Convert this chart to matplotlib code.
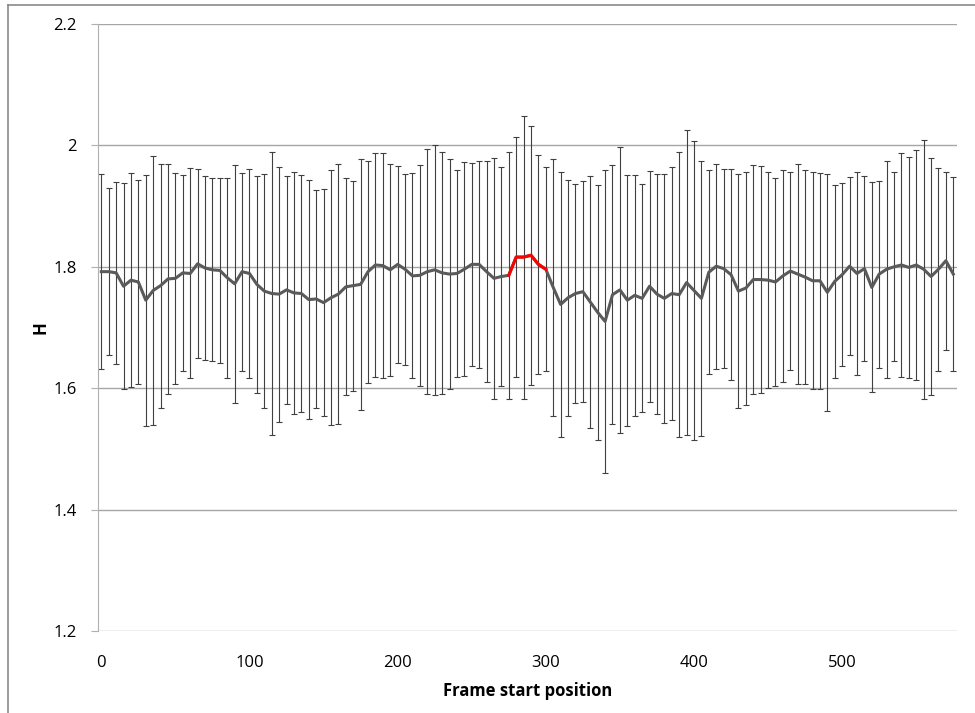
import numpy as np
import matplotlib
matplotlib.use("Agg")
import matplotlib.pyplot as plt
from matplotlib.lines import Line2D

plt.rcParams['font.family'] = ['Open Sans', 'DejaVu Sans']

# frame start positions (category axis, step 5)
frame = np.arange(0, 580, 5)

h_mean = [1.792, 1.792, 1.790, 1.768, 1.778, 1.775, 1.745, 1.761, 1.769, 1.780,
          1.781, 1.790, 1.789, 1.805, 1.798, 1.795, 1.794, 1.782, 1.772, 1.792,
          1.789, 1.771, 1.760, 1.756, 1.755, 1.762, 1.757, 1.756, 1.746, 1.747,
          1.741, 1.749, 1.755, 1.767, 1.769, 1.771, 1.792, 1.803, 1.802, 1.795,
          1.804, 1.796, 1.785, 1.786, 1.792, 1.795, 1.790, 1.788, 1.789, 1.796,
          1.804, 1.804, 1.792, 1.781, 1.784, 1.786, 1.816, 1.816, 1.819, 1.804,
          1.796, 1.766, 1.738, 1.749, 1.756, 1.759, 1.742, 1.725, 1.710, 1.754,
          1.762, 1.745, 1.753, 1.748, 1.768, 1.755, 1.748, 1.756, 1.754, 1.774,
          1.761, 1.748, 1.791, 1.801, 1.797, 1.787, 1.760, 1.765, 1.779, 1.779,
          1.778, 1.775, 1.785, 1.793, 1.788, 1.783, 1.777, 1.777, 1.758, 1.776,
          1.787, 1.801, 1.789, 1.797, 1.766, 1.788, 1.796, 1.800, 1.803, 1.799,
          1.803, 1.796, 1.784, 1.796, 1.810, 1.788]

h_err = [0.161, 0.138, 0.150, 0.170, 0.176, 0.168, 0.207, 0.221, 0.201, 0.189,
         0.174, 0.162, 0.173, 0.156, 0.152, 0.151, 0.153, 0.165, 0.196, 0.163,
         0.172, 0.179, 0.193, 0.233, 0.210, 0.188, 0.199, 0.196, 0.197, 0.179,
         0.187, 0.210, 0.214, 0.179, 0.173, 0.207, 0.183, 0.184, 0.185, 0.175,
         0.162, 0.157, 0.169, 0.182, 0.202, 0.206, 0.199, 0.189, 0.170, 0.176,
         0.167, 0.170, 0.182, 0.199, 0.180, 0.203, 0.198, 0.233, 0.213, 0.180,
         0.168, 0.211, 0.219, 0.194, 0.180, 0.182, 0.207, 0.210, 0.249, 0.213,
         0.235, 0.207, 0.198, 0.188, 0.190, 0.198, 0.205, 0.209, 0.235, 0.251,
         0.246, 0.227, 0.168, 0.169, 0.164, 0.174, 0.193, 0.192, 0.189, 0.187,
         0.178, 0.172, 0.174, 0.163, 0.181, 0.176, 0.179, 0.178, 0.195, 0.159,
         0.151, 0.147, 0.168, 0.152, 0.173, 0.154, 0.179, 0.156, 0.185, 0.182,
         0.190, 0.213, 0.196, 0.167, 0.147, 0.160]

# highlighted window (frame start 275..300)
red_start, red_end = 275, 300

fig = plt.figure(figsize=(9.75, 7.13), dpi=100)
ax = fig.add_axes([97.6/975, 1-631/713, (957-97.6)/975, (631-24)/713])

ax.errorbar(frame, h_mean, yerr=h_err, fmt='none', ecolor='#404040',
            elinewidth=0.8, capsize=2.3, capthick=0.8, zorder=2)
ax.plot(frame, h_mean, color='#5a5a5a', lw=2.2, zorder=3, solid_joinstyle='round')
mask = (frame >= red_start) & (frame <= red_end)
ax.plot(frame[mask], np.array(h_mean)[mask], color='#ff0000', lw=2.2, zorder=4,
        solid_joinstyle='round')

ax.set_xlim(-2.5, 577.5)
ax.set_ylim(1.2, 2.2)
ax.set_xticks([0, 100, 200, 300, 400, 500])
ax.set_yticks([1.2, 1.4, 1.6, 1.8, 2.0, 2.2])
ax.set_yticklabels(['1.2', '1.4', '1.6', '1.8', '2', '2.2'])
ax.grid(axis='y', color='#a6a6a6', lw=1.0, zorder=0)
ax.set_axisbelow(True)
for s in ['top', 'right', 'bottom']:
    ax.spines[s].set_visible(False)
ax.spines['left'].set_color('#b0b0b0')
ax.tick_params(axis='y', length=5, color='#b0b0b0', labelsize=12, pad=10)
ax.tick_params(axis='x', length=0, labelsize=12, pad=17)

ax.set_xlabel('Frame start position', fontsize=12, fontweight='bold', labelpad=8)
ax.set_ylabel('H', fontsize=12, fontweight='bold', labelpad=3)

# outer chart border (top and left visible)
fig.add_artist(Line2D([7.5/975, 1], [1-4.5/713, 1-4.5/713], color='#8a8a8a', lw=1.2))
fig.add_artist(Line2D([7.5/975, 7.5/975], [0, 1-4.5/713], color='#8a8a8a', lw=1.2))

fig.savefig('out.png', dpi=100)
